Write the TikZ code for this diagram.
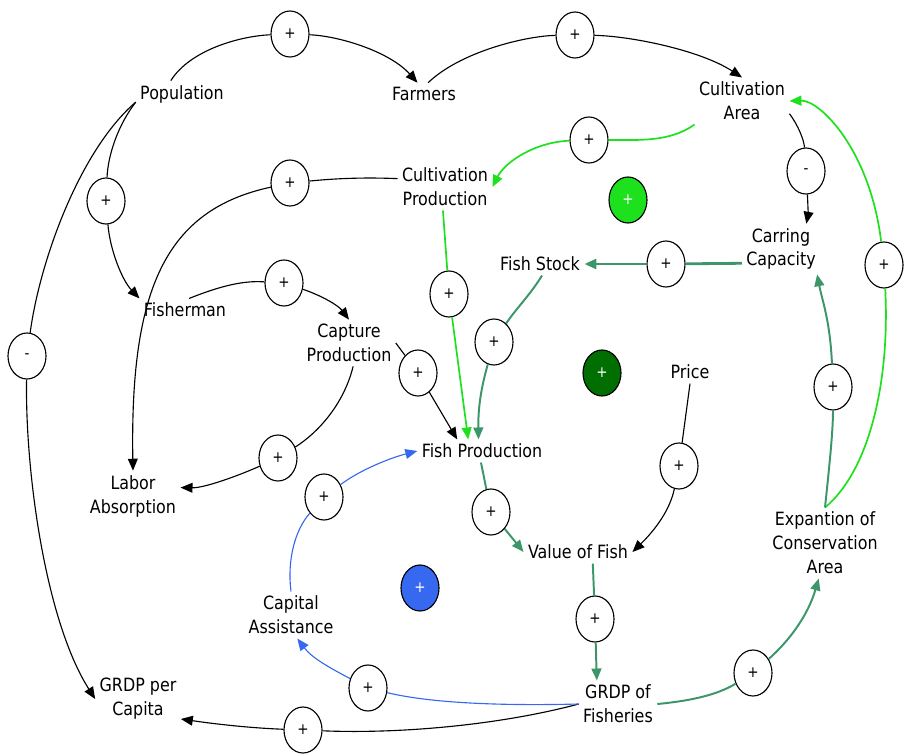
\documentclass[tikz,border=0pt]{standalone}
\usepackage{fontspec}
\setmainfont{DejaVu Sans}[FakeStretch=0.87]
\usetikzlibrary{arrows.meta,shapes.geometric}
\definecolor{hellgruen}{RGB}{30,225,30}
\definecolor{dunkelgruen}{RGB}{0,110,0}
\definecolor{seegruen}{RGB}{60,150,105}
\definecolor{hellblau}{RGB}{55,105,240}
\tikzset{
	var/.style={align=center, inner sep=3pt},
	pol/.style={draw, ellipse, line width=0.8pt, minimum width=0.95cm,
		minimum height=1.15cm, inner sep=0pt, fill=white,
		font=\fontsize{11}{11}\selectfont},
	lnk/.style={line width=0.8pt},
	pfeil/.style={line width=0.8pt, -{Triangle[length=8.5pt,width=7pt]}}
}
\begin{document}
\begin{tikzpicture}[x=0.025cm, y=-0.025cm, font=\fontsize{13}{17}\selectfont]
	\useasboundingbox (0,0) rectangle (906,754);
	% Variablen
	\node[var] (pop) at (182,94) {Population};
	\node[var] (farm) at (424,94) {Farmers};
	\node[var] (carea) at (742,101) {Cultivation\\Area};
	\node[var] (cprod) at (445,187) {Cultivation\\Production};
	\node[var] (fstock) at (540,264) {Fish Stock};
	\node[var] (ccap) at (781,249) {Carring\\Capacity};
	\node[var] (fisher) at (185,310) {Fisherman};
	\node[var] (capt) at (349,343) {Capture\\Production};
	\node[var] (price) at (690,372) {Price};
	\node[var] (fprod) at (482,451) {Fish Production};
	\node[var] (labor) at (133,496) {Labor\\Absorption};
	\node[var] (vfish) at (578,552) {Value of Fish};
	\node[var] (expan) at (825,543) {Expantion of\\Conservation\\Area};
	\node[var] (capas) at (291,615) {Capital\\Assistance};
	\node[var] (gcap) at (138,699) {GRDP per\\Capita};
	\node[var] (gfish) at (618,704) {GRDP of\\Fisheries};

	% Polaritaeten
	\node[pol] (pPF) at (290,34) {+};
	\node[pol] (pFC) at (575,35) {+};
	\node[pol] (pPFi) at (106,201) {+};
	\node[pol] (pPG) at (27,356) {-};
	\node[pol] (pCL) at (290,183) {+};
	\node[pol] (pCC) at (589,140) {+};
	\node[pol] (pCK) at (806,171) {-};
	\node[pol] (pKS) at (666,264) {+};
	\node[pol] (pEC) at (884,265) {+};
	\node[pol] (pCF) at (449,294) {+};
	\node[pol] (pFiC) at (284,283) {+};
	\node[pol] (pSF) at (494,342) {+};
	\node[pol] (pKF) at (418,373) {+};
	\node[pol] (pEK) at (833,387) {+};
	\node[pol] (pKL) at (278,458) {+};
	\node[pol] (pPV) at (679,466) {+};
	\node[pol] (pAF) at (324,497) {+};
	\node[pol] (pFV) at (491,512) {+};
	\node[pol] (pVG) at (595,619) {+};
	\node[pol] (pGE) at (753,673) {+};
	\node[pol] (pGA) at (368,688) {+};
	\node[pol] (pGC) at (303,730) {+};

	% Schleifen
	\node[pol, fill=hellgruen, text=white] (m1) at (628,200) {+};
	\node[pol, fill=dunkelgruen, text=white] (m2) at (602,373) {+};
	\node[pol, fill=hellblau, text=white] (m3) at (420,588) {+};

	% schwarze Verbindungen
	\draw[lnk] (pop.130) .. controls (190,50) and (240,36) .. (pPF);
	\draw[pfeil] (pPF) .. controls (340,36) and (390,52) .. (farm.120);
	\draw[lnk] (farm.70) .. controls (460,52) and (525,36) .. (pFC);
	\draw[pfeil] (pFC) .. controls (630,36) and (700,50) .. (carea.north);
	\draw[lnk] (pop.190) .. controls (118,125) and (108,155) .. (pPFi);
	\draw[pfeil] (pPFi) .. controls (110,250) and (122,280) .. (fisher.north west);
	\draw[lnk] (pop.190) .. controls (80,150) and (40,260) .. (pPG);
	\draw[pfeil] (pPG) .. controls (25,470) and (45,620) .. (gcap.west);
	\draw[lnk] (cprod.170) .. controls (360,177) and (330,179) .. (pCL);
	\draw[pfeil] (pCL) .. controls (165,210) and (130,290) .. (labor.north);
	\draw[lnk] (carea.-15) .. controls (798,125) and (804,140) .. (pCK);
	\draw[pfeil] (pCK) .. controls (808,205) and (808,215) .. (ccap.45);
	\draw[lnk] (fisher.70) .. controls (230,282) and (250,281) .. (pFiC);
	\draw[pfeil] (pFiC) .. controls (320,295) and (338,305) .. (capt.north);
	\draw[lnk] (capt.east) -- (pKF);
	\draw[pfeil] (pKF) -- (fprod.155);
	\draw[lnk] (capt.-80) .. controls (345,400) and (322,430) .. (pKL);
	\draw[pfeil] (pKL) .. controls (240,475) and (205,488) .. (labor.10);
	\draw[lnk] (price.south) -- (pPV);
	\draw[pfeil] (pPV) .. controls (670,510) and (655,530) .. (vfish.east);
	\draw[lnk] (gfish.west) .. controls (500,725) and (400,734) .. (pGC);
	\draw[pfeil] (pGC) .. controls (250,728) and (215,724) .. (gcap.-25);

	% hellgruene Verbindungen
	\draw[lnk, hellgruen, line width=1.2pt] (carea.south west) .. controls (670,142) and (640,140) .. (pCC);
	\draw[pfeil, hellgruen, line width=1.2pt] (pCC) .. controls (535,142) and (505,162) .. (cprod.east);
	\draw[lnk, hellgruen, line width=1.2pt] (cprod.-95) -- (pCF);
	\draw[pfeil, hellgruen, line width=1.2pt] (pCF) -- (fprod.140);
	\draw[lnk, hellgruen, line width=1.2pt] (expan.north) .. controls (870,470) and (890,380) .. (pEC);
	\draw[pfeil, hellgruen, line width=1.2pt] (pEC) .. controls (870,150) and (820,100) .. (carea.east);

	% seegruene Verbindungen
	\draw[lnk, seegruen, line width=2pt] (ccap.200) -- (pKS);
	\draw[pfeil, seegruen, line width=2pt] (pKS) -- (fstock.east);
	\draw[lnk, seegruen, line width=1.4pt] (fstock.-80) .. controls (530,295) and (515,310) .. (pSF);
	\draw[pfeil, seegruen, line width=1.4pt] (pSF) .. controls (482,385) and (478,405) .. (fprod.107);
	\draw[lnk, seegruen, line width=1.4pt] (fprod.-95) -- (pFV);
	\draw[pfeil, seegruen, line width=1.4pt] (pFV) -- (vfish.west);
	\draw[lnk, seegruen, line width=1.4pt] (vfish.-38) -- (pVG);
	\draw[pfeil, seegruen, line width=1.4pt] (pVG) -- (gfish.132);
	\draw[lnk, seegruen, line width=1.4pt] (gfish.east) .. controls (700,700) and (722,692) .. (pGE);
	\draw[pfeil, seegruen, line width=1.4pt] (pGE) .. controls (790,640) and (808,615) .. (expan.-100);
	\draw[lnk, seegruen, line width=1.4pt] (expan.north) .. controls (830,460) and (833,430) .. (pEK);
	\draw[pfeil, seegruen, line width=1.4pt] (pEK) .. controls (830,320) and (822,300) .. (ccap.-35);

	% hellblaue Verbindungen
	\draw[lnk, hellblau] (gfish.west) .. controls (500,706) and (430,703) .. (pGA);
	\draw[pfeil, hellblau] (pGA) .. controls (330,668) and (312,658) .. (capas.-75);
	\draw[lnk, hellblau] (capas.north) .. controls (287,560) and (295,530) .. (pAF);
	\draw[pfeil, hellblau] (pAF) .. controls (360,470) and (390,458) .. (fprod.west);
\end{tikzpicture}
\end{document}
